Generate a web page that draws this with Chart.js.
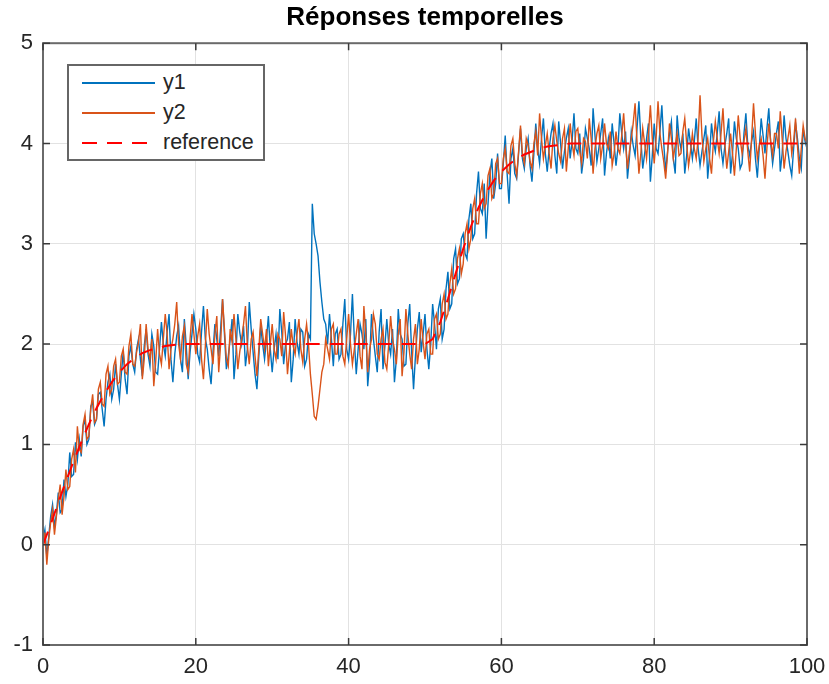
<!DOCTYPE html>
<html lang="fr">
<head>
  <meta charset="UTF-8">
  <title>Réponses temporelles</title>
  <script src="https://cdn.jsdelivr.net/npm/chart.js"></script>
  <style>
    body { margin: 0; background: #fff; font-family: "Liberation Sans", Arial, sans-serif; }
    #zone { position: relative; width: 829px; height: 684px; }
    #legende {
      position: absolute; left: 67px; top: 64px; width: 194px; height: 93px;
      border: 2px solid #666; background: #fff;
    }
    .entree { position: absolute; left: 13px; height: 30px; width: 180px; }
    .trait { position: absolute; left: 0; top: 14px; width: 73px; height: 2px; }
    .texte { position: absolute; left: 81px; top: 2px; font-size: 21.5px; color: #262626; line-height: 24px; }
  </style>
</head>
<body>
  <div id="zone">
    <canvas id="graphique" width="829" height="684"></canvas>
    <div id="legende">
      <div class="entree" style="top:2px"><div class="trait" style="background:#0072BD"></div><div class="texte">y1</div></div>
      <div class="entree" style="top:32px"><div class="trait" style="background:#D95319"></div><div class="texte">y2</div></div>
      <div class="entree" style="top:62px"><div class="trait" style="background:repeating-linear-gradient(90deg,#FF0000 0 15px,transparent 15px 25px)"></div><div class="texte">reference</div></div>
    </div>
  </div>

  <script>
    // pas d'échantillonnage des mesures (s)
    const dt = 0.25;

    // sortie y1 (bleu), t = 0 .. 100, une ligne = 5 s
    const y1 = [
      0.05, 0.15, -0.12, 0.08, 0.28, 0.4, 0.18, 0.3, 0.52, 0.32, 0.35, 0.65, 0.48, 0.6, 0.92, 0.68, 0.7, 1.02, 0.85, 1.05,
      0.88, 1.18, 1.25, 1.0, 1.05, 1.38, 1.42, 1.2, 1.25, 1.5, 1.52, 1.35, 1.18, 1.45, 1.62, 1.7, 1.45, 1.55, 1.8, 1.6,
      1.45, 1.7, 1.92, 1.65, 1.5, 1.88, 1.98, 1.8, 1.72, 1.95, 2.05, 1.85, 1.68, 1.98, 2.15, 1.9, 1.78, 2.1, 1.98, 1.72,
      1.7, 1.95, 2.22, 2.0, 1.88, 2.12, 2.3, 1.85, 1.62, 1.9, 2.08, 2.18, 1.85, 1.72, 2.25, 1.98, 1.65, 1.92, 2.1, 2.3,
      2.15, 1.9, 1.82, 2.12, 2.38, 2.05, 1.95, 1.75, 1.6, 1.92, 2.2, 2.05, 1.88, 2.15, 2.45, 2.1, 1.75, 1.88, 2.05, 2.25,
      1.65, 1.9, 2.3, 2.12, 2.0, 2.18, 1.78, 1.95, 2.42, 2.15, 1.92, 1.7, 1.55, 1.88, 2.18, 2.0, 1.85, 2.05, 2.28, 1.95,
      1.72, 1.95, 2.1, 1.85, 2.35, 2.12, 1.8, 2.0, 2.05, 2.22, 1.62, 1.85, 2.25, 2.02, 1.9, 2.15, 2.12, 1.78, 1.85, 2.1,
      2.05, 3.4, 3.1, 3.0, 2.88, 2.62, 2.42, 2.25, 2.2, 2.0, 2.3, 2.05, 1.78, 2.1, 2.15, 1.85, 1.9, 2.2, 2.45, 1.95,
      1.85, 2.1, 2.5, 2.05, 1.7, 1.95, 2.2, 2.1, 1.95, 2.25, 1.58, 1.82, 2.3, 2.05, 1.88, 1.72, 2.12, 2.35, 1.75, 1.98,
      2.25, 2.0, 1.9, 2.15, 1.62, 1.85, 2.35, 2.1, 2.05, 1.78, 1.8, 2.2, 2.4, 1.92, 1.55, 1.88, 2.15, 2.32, 1.92, 2.1,
      2.3, 1.95, 1.75, 2.0, 2.4, 2.2, 1.95, 2.35, 2.45, 2.05, 2.15, 2.55, 2.72, 2.35, 2.4, 2.85, 2.95, 2.6, 2.65, 3.05,
      3.1, 2.9, 2.85, 3.25, 3.4, 3.05, 3.1, 3.5, 3.72, 3.35, 3.3, 3.6, 3.05, 3.4, 3.7, 3.85, 3.45, 3.6, 3.9, 3.55,
      3.55, 3.8, 4.08, 3.7, 3.4, 3.85, 3.95, 3.7, 3.65, 3.9, 4.15, 3.85, 3.75, 3.95, 4.05, 3.78, 3.62, 3.9, 4.2, 3.95,
      3.8, 4.05, 4.25, 3.9, 3.72, 3.95, 4.1, 4.2, 3.88, 3.7, 4.22, 4.0, 3.75, 3.92, 4.05, 4.15, 3.85, 4.02, 4.3, 3.95,
      3.9, 4.1, 3.7, 3.85, 4.15, 4.05, 3.95, 3.78, 4.35, 4.08, 3.82, 3.95, 4.1, 4.25, 3.68, 3.9, 4.05, 3.85, 4.2, 4.0,
      3.78, 3.95, 4.3, 4.1, 3.95, 4.12, 3.65, 3.85, 4.12, 3.98, 3.88, 4.15, 4.42, 4.05, 3.75, 3.9, 4.05, 4.2, 3.62, 3.88,
      4.2, 3.95, 3.9, 4.12, 4.38, 4.0, 3.72, 3.92, 4.1, 4.22, 3.85, 3.7, 4.28, 4.05, 3.95, 4.1, 3.7, 3.88, 4.15, 4.0,
      3.85, 4.02, 4.25, 3.95, 3.78, 3.92, 4.05, 4.18, 3.65, 3.88, 4.2, 4.02, 3.92, 4.1, 4.32, 3.95, 3.8, 3.98, 4.1, 4.25,
      3.7, 3.9, 4.22, 4.05, 3.95, 3.75, 3.8, 4.1, 4.3, 3.98, 3.88, 4.02, 4.12, 3.85, 3.66, 3.95, 4.25, 4.08, 3.9, 4.15,
      4.35, 4.0, 3.8, 3.95, 4.1, 4.22, 3.72, 3.9, 4.28, 4.05, 3.92, 3.78, 3.68, 3.95, 4.2, 4.05, 3.85, 3.75, 4.15, 4.02,
      3.95
    ];

    // sortie y2 (orange), même échantillonnage
    const y2 = [
      -0.05, 0.12, -0.2, 0.05, 0.22, 0.35, 0.1, 0.28, 0.45, 0.6, 0.3, 0.48, 0.75, 0.55, 0.58, 0.85, 0.95, 0.72, 1.18, 0.95,
      0.92, 1.2, 1.3, 1.05, 1.08, 1.35, 1.5, 1.22, 1.25, 1.55, 1.62, 1.4, 1.38, 1.7, 1.78, 1.5, 1.55, 1.78, 1.85, 1.6,
      1.62, 1.88, 1.95, 1.72, 1.7, 1.98, 2.1, 1.8, 1.78, 1.92, 2.02, 2.2, 1.65, 1.85, 2.2, 1.95, 1.85, 2.05, 1.58, 1.82,
      2.15, 1.9, 1.8, 2.05, 2.3, 2.1, 1.75, 1.95, 2.05, 2.2, 2.42, 2.0, 1.85, 2.08, 2.18, 1.8, 1.72, 2.05, 2.3, 2.1,
      1.9, 2.08, 2.2, 1.85, 1.65, 1.98, 2.35, 2.1, 1.95, 1.8, 2.1, 2.28, 1.72, 2.0, 2.45, 2.15, 1.85, 1.78, 2.15, 2.02,
      2.3, 2.05, 1.75, 1.92, 2.05, 2.2, 2.38, 1.98, 1.8, 2.05, 2.12, 1.88, 1.68, 1.95, 2.25, 2.1, 1.95, 2.15, 1.78, 2.0,
      2.2, 1.95, 1.85, 2.1, 2.05, 1.88, 2.32, 2.08, 1.7, 1.92, 2.15, 1.98, 1.9, 2.1, 2.25, 1.95, 1.82, 2.05, 2.2, 2.0,
      1.7, 1.5, 1.28, 1.25, 1.38, 1.55, 1.72, 1.8, 2.05, 1.95, 1.85, 2.15, 2.2, 1.9, 1.9, 2.1, 2.15, 1.88, 1.8, 2.05,
      2.3, 2.0, 1.8, 1.95, 2.1, 2.25, 1.88, 1.75, 2.38, 2.1, 1.72, 1.95, 2.05, 2.3, 2.2, 1.9, 1.85, 2.05, 2.15, 1.82,
      1.75, 2.0, 2.28, 2.05, 1.95, 1.8, 2.1, 2.25, 1.68, 1.92, 2.35, 2.1, 1.9, 1.75, 2.05, 2.2, 1.8, 1.95, 2.25, 2.02,
      1.85, 2.1, 2.15, 1.9, 1.9, 2.25, 2.3, 2.05, 2.1, 2.4, 2.5, 2.25, 2.3, 2.6, 2.75, 2.5, 2.55, 2.85, 2.95, 2.7,
      2.8, 3.1, 3.2, 2.95, 3.05, 3.35, 3.45, 3.2, 3.2, 3.5, 3.6, 3.35, 3.4, 3.68, 3.75, 3.45, 3.5, 3.8, 3.85, 3.6,
      3.6, 3.85, 3.95, 3.72, 3.7, 3.98, 4.05, 3.8, 3.68, 3.92, 4.18, 3.9, 3.8, 4.05, 3.98, 3.82, 3.75, 4.0, 4.12, 3.88,
      4.3, 4.05, 3.85, 3.98, 4.1, 3.9, 3.75, 4.05, 4.18, 4.02, 3.9, 3.82, 4.05, 4.15, 3.72, 3.95, 4.2, 4.0, 3.88, 4.12,
      4.15, 3.92, 3.8, 4.05, 4.02, 3.85, 4.25, 4.05, 3.7, 3.95, 4.1, 4.18, 3.85, 3.98, 4.2, 4.0, 3.95, 4.12, 3.78, 3.9,
      4.12, 3.95, 3.9, 4.08, 4.3, 4.0, 3.75, 3.92, 4.05, 4.2, 4.4, 4.02, 3.7, 3.9, 4.15, 4.0, 3.85, 4.1, 4.38, 4.05,
      3.8, 4.05, 4.42, 4.1, 3.95, 3.82, 3.65, 3.9, 4.2, 4.05, 3.85, 3.98, 4.1, 3.88, 3.9, 4.12, 4.25, 4.0, 3.78, 3.92,
      4.1, 3.95, 3.85, 4.05, 4.48, 4.08, 3.82, 3.95, 4.05, 3.85, 3.7, 4.02, 4.22, 4.05, 3.9, 4.1, 4.35, 4.0, 3.75, 3.92,
      4.1, 3.9, 3.68, 3.95, 4.28, 4.05, 3.9, 4.02, 4.15, 3.92, 3.72, 4.05, 4.4, 4.1, 3.85, 3.98, 4.05, 3.88, 3.65, 3.95,
      4.2, 4.02, 3.88, 4.1, 4.1, 3.95, 4.32, 4.05, 3.75, 3.92, 4.05, 4.18, 3.9, 4.02, 4.25, 3.98, 3.7, 3.95, 4.18, 4.05,
      4.0
    ];

    // consigne (reference), un point par seconde, t = 0 .. 100
    const reference = [
      0, 0.2, 0.42, 0.63, 0.83, 1.02, 1.2, 1.36, 1.5, 1.62,
      1.72, 1.8, 1.86, 1.91, 1.94, 1.96, 1.98, 1.99, 2, 2,
      2, 2, 2, 2, 2, 2, 2, 2, 2, 2,
      2, 2, 2, 2, 2, 2, 2, 2, 2, 2,
      2, 2, 2, 2, 2, 2, 2, 2, 2, 2,
      2, 2.05, 2.22, 2.45, 2.7, 2.95, 3.17, 3.36, 3.51, 3.63,
      3.72, 3.79, 3.85, 3.89, 3.92, 3.95, 3.97, 3.98, 3.99, 4,
      4, 4, 4, 4, 4, 4, 4, 4, 4, 4,
      4, 4, 4, 4, 4, 4, 4, 4, 4, 4,
      4, 4, 4, 4, 4, 4, 4, 4, 4, 4,
      4
    ];

    const xTicks = [0, 20, 40, 60, 80, 100];
    const yTicks = [-1, 0, 1, 2, 3, 4, 5];

    const points = (valeurs, pas) => valeurs.map((v, i) => ({ x: i * pas, y: v }));

    // cadre fermé + graduations vers l'intérieur, façon MATLAB
    const cadre = {
      id: "cadre",
      afterDatasetsDraw(chart) {
        const { ctx, chartArea: a, scales: { x, y } } = chart;
        ctx.save();
        ctx.strokeStyle = "#6a6a6a";
        ctx.lineWidth = 2;
        ctx.strokeRect(a.left, a.top, a.right - a.left, a.bottom - a.top);
        ctx.lineWidth = 1.5;
        ctx.strokeStyle = "#3a3a3a";
        ctx.beginPath();
        xTicks.forEach(v => {
          const px = x.getPixelForValue(v);
          ctx.moveTo(px, a.bottom); ctx.lineTo(px, a.bottom - 7);
          ctx.moveTo(px, a.top); ctx.lineTo(px, a.top + 7);
        });
        yTicks.forEach(v => {
          const py = y.getPixelForValue(v);
          ctx.moveTo(a.left, py); ctx.lineTo(a.left + 7, py);
          ctx.moveTo(a.right, py); ctx.lineTo(a.right - 7, py);
        });
        ctx.stroke();
        ctx.restore();
      }
    };

    const police = "'Liberation Sans', Arial, sans-serif";

    new Chart(document.getElementById("graphique"), {
      type: "line",
      data: {
        datasets: [
          { label: "y1", data: points(y1, dt), borderColor: "#0072BD", borderWidth: 1.4, order: 3 },
          { label: "y2", data: points(y2, dt), borderColor: "#D95319", borderWidth: 1.4, order: 2 },
          { label: "reference", data: points(reference, 1), borderColor: "#FF0000", borderWidth: 2, borderDash: [14, 10], order: 1 }
        ]
      },
      options: {
        responsive: false,
        animation: false,
        parsing: false,
        elements: { point: { radius: 0 }, line: { tension: 0 } },
        layout: { padding: { left: 0, right: 22, top: 0, bottom: 0 } },
        plugins: {
          legend: { display: false },
          tooltip: { enabled: false },
          title: {
            display: true,
            text: "Réponses temporelles",
            fullSize: false,
            color: "#000",
            font: { family: police, size: 26, weight: "bold" },
            padding: { top: 2, bottom: 10 }
          }
        },
        scales: {
          x: {
            type: "linear",
            min: 0, max: 100,
            afterBuildTicks: s => { s.ticks = xTicks.map(v => ({ value: v })); },
            afterFit: s => { s.height = 39; s.paddingLeft = 0; s.paddingRight = 0; },
            ticks: { color: "#262626", font: { family: police, size: 22 }, padding: 9, maxRotation: 0 },
            grid: { color: "#e2e2e2", drawTicks: false },
            border: { display: false }
          },
          y: {
            min: -1, max: 5,
            afterBuildTicks: s => { s.ticks = yTicks.map(v => ({ value: v })); },
            afterFit: s => { s.width = 43; },
            ticks: { color: "#262626", font: { family: police, size: 22 }, padding: 10 },
            grid: { color: "#e2e2e2", drawTicks: false },
            border: { display: false }
          }
        }
      },
      plugins: [cadre]
    });
  </script>
</body>
</html>
